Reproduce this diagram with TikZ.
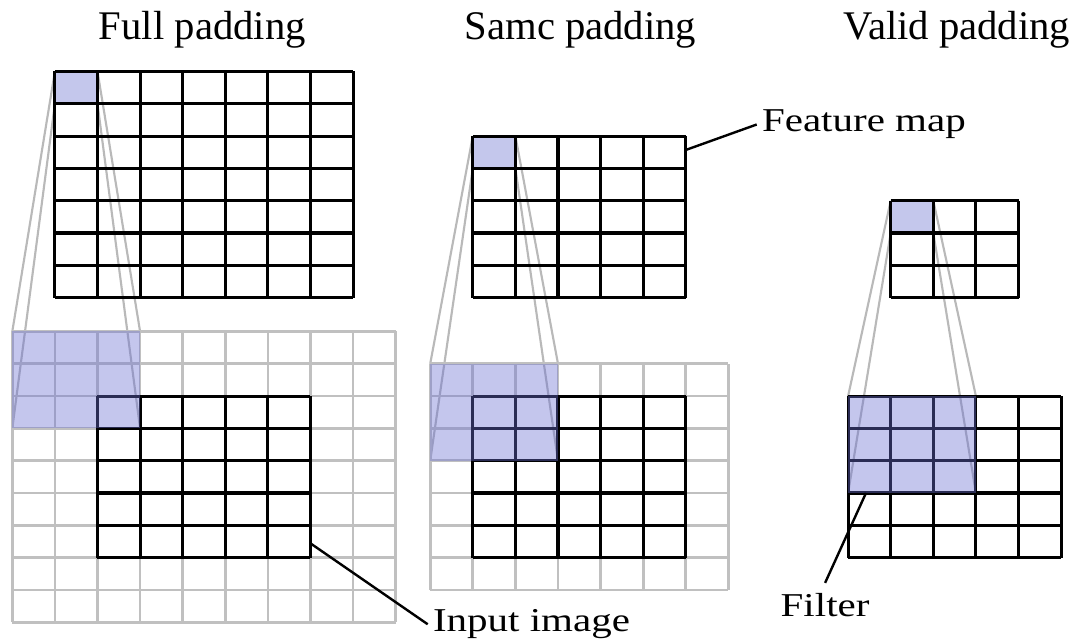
\documentclass[tikz,border=0pt]{standalone}
\usepackage{fontspec}
\setmainfont{Liberation Serif}
\newfontfamily\lblfont[FakeStretch=1.23]{Liberation Serif}
\usepackage{tikz}
\usetikzlibrary{backgrounds}

\definecolor{padgray}{RGB}{192,192,192}
\definecolor{linkgray}{RGB}{185,185,185}
\definecolor{filterblue}{RGB}{107,112,210}
\definecolor{cellblue}{RGB}{196,199,236}

\tikzset{
    cellstep/.style={xstep=31.95pt, ystep=24.225pt},
    padgrid/.style={cellstep, draw=padgray, line width=2pt, line join=round},
    mapgrid/.style={cellstep, draw=black, line width=2.3pt, line join=round},
    mapcell/.style={fill=cellblue, inner sep=0pt, outer sep=0pt,
        minimum width=31.95pt, minimum height=24.225pt, anchor=north west},
    filterbox/.style={fill=filterblue, fill opacity=0.4, inner sep=0pt, outer sep=0pt,
        minimum width=95.85pt, minimum height=72.675pt, anchor=north west},
    funnel/.style={draw=linkgray, line width=1.6pt},
    lead/.style={draw=black, line width=1.8pt},
    title/.style={font=\fontsize{30.5}{36}\selectfont, inner sep=0pt, anchor=base},
    lbl/.style={font=\lblfont\fontsize{25}{30}\selectfont, inner sep=2pt, outer sep=2pt}
}

\begin{document}
\begin{tikzpicture}[x=31.95pt, y=24.225pt]
    \useasboundingbox (-0.2887,-2.551) rectangle (24.970,17.263);

    \coordinate (fullPad) at (0,-2);
    \coordinate (fullIn) at (2,0);
    \coordinate (fullMap) at (1,8.05);
    \coordinate (samePad) at (9.81,-1);
    \coordinate (sameIn) at (10.81,0);
    \coordinate (sameMap) at (10.81,8.05);
    \coordinate (validIn) at (19.62,0);
    \coordinate (validMap) at (20.62,8.05);

    \node[mapcell] (fullCell) at (1,15.05) {};
    \node[mapcell] (sameCell) at (10.81,13.05) {};
    \node[mapcell] (validCell) at (20.62,11.05) {};

    \draw[padgrid, shift={(fullPad)}] (0,0) grid (9,9);
    \draw[padgrid, shift={(samePad)}] (0,0) grid (7,7);

    \draw[mapgrid, shift={(fullIn)}] (0,0) grid (5,5);
    \draw[mapgrid, shift={(fullMap)}] (0,0) grid (7,7);
    \draw[mapgrid, shift={(sameIn)}] (0,0) grid (5,5);
    \draw[mapgrid, shift={(sameMap)}] (0,0) grid (5,5);
    \draw[mapgrid, shift={(validIn)}] (0,0) grid (5,5);
    \draw[mapgrid, shift={(validMap)}] (0,0) grid (3,3);

    \node[filterbox] (fullFilter) at (0,7) {};
    \node[filterbox] (sameFilter) at (9.81,6) {};
    \node[filterbox] (validFilter) at (19.62,5) {};

    \begin{scope}[on background layer]
        \draw[funnel] (fullCell.north west) -- (fullFilter.north west)
                      (fullCell.south west) -- (fullFilter.south west)
                      (fullCell.north east) -- (fullFilter.north east)
                      (fullCell.south east) -- (fullFilter.south east);
        \draw[funnel] (sameCell.north west) -- (sameFilter.north west)
                      (sameCell.south west) -- (sameFilter.south west)
                      (sameCell.north east) -- (sameFilter.north east)
                      (sameCell.south east) -- (sameFilter.south east);
        \draw[funnel] (validCell.north west) -- (validFilter.north west)
                      (validCell.south west) -- (validFilter.south west)
                      (validCell.north east) -- (validFilter.north east)
                      (validCell.south east) -- (validFilter.south east);
    \end{scope}

    \node[title] (fullTitle) at (4.461,16.05) {Full padding};
    \node[title] (sameTitle) at (13.338,16.05) {Samc padding};
    \node[title] (validTitle) at (22.169,16.05) {Valid padding};

    \coordinate (fmapPt) at (15.81,12.62);
    \coordinate (inimgPt) at (7,0.44);
    \coordinate (filtPt) at (20.04,2);

    \node[lbl, anchor=base west] (fmap) at (17.474,13.18) {Feature map};
    \node[lbl, anchor=base west] (inimg) at (9.751,-2.294) {Input image};
    \node[lbl, anchor=base, outer sep=6pt] (filt) at (19.08,-1.83) {Filter};

    \draw[lead] (fmapPt) -- (fmap.west);
    \draw[lead] (inimgPt) -- (inimg.west);
    \draw[lead] (filtPt) -- (filt.north);
\end{tikzpicture}
\end{document}
